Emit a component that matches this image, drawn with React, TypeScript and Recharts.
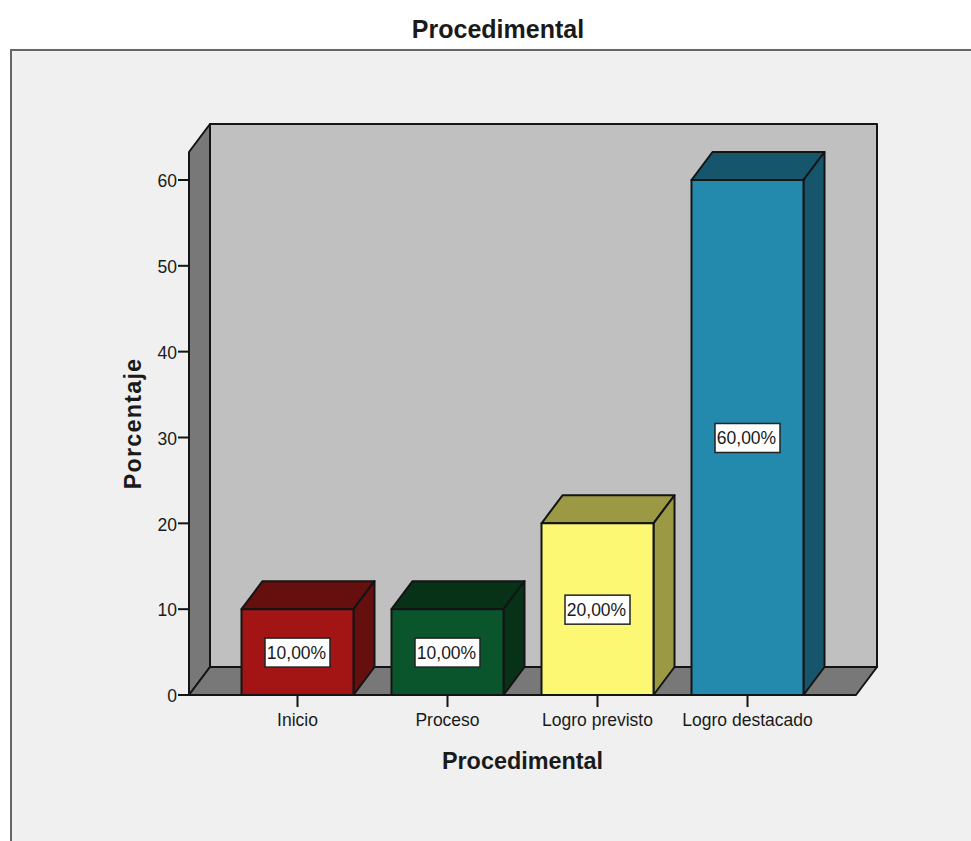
import React from "react";
import { ComposedChart, Bar, XAxis, YAxis, LabelList, Customized, usePlotArea } from "recharts";

const categories = ["Inicio", "Proceso", "Logro previsto", "Logro destacado"];
const percentages = [10, 10, 20, 60];
const valueLabels = ["10,00%", "10,00%", "20,00%", "60,00%"];
const frontColors = ["#a31515", "#0b552c", "#fdf874", "#2389ad"];
const shadeColors = ["#650f0f", "#083218", "#9c9945", "#16566c"];
const yTicks = [0, 10, 20, 30, 40, 50, 60];

const rows = categories.map((name, i) => ({
  name,
  value: percentages[i],
  label: valueLabels[i],
  front: frontColors[i],
  shade: shadeColors[i],
}));

const FONT = '"Liberation Sans", Arial, sans-serif';
const INK = "#1a1a1a";
const EDGE = "#141414";
// Offset of the back plane relative to the front plane of the 3D frame.
const DEPTH_X = 21;
const DEPTH_Y = 28;

const pts = (list: number[][]) => list.map((p) => p.join(",")).join(" ");

// Panel, side wall, back wall and floor behind the bars.
function Frame() {
  const area = usePlotArea();
  if (!area) return null;
  const left = area.x;
  const top = area.y;
  const right = area.x + area.width;
  const bottom = area.y + area.height;
  const stroke = { stroke: EDGE, strokeWidth: 2, strokeLinejoin: "round" as const };
  return (
    <g>
      <text x={498} y={38} textAnchor="middle" fontFamily={FONT} fontWeight="bold" fontSize={25} fill={INK}>
        Procedimental
      </text>
      {/* The panel runs off the right and bottom of the page, so only two edges are stroked. */}
      <rect x={11} y={50} width={960} height={791} fill="#f0f0f0" />
      <path d="M11 841 V50 H971" fill="none" stroke="#666" strokeWidth={2} />
      <rect x={left + DEPTH_X} y={top - DEPTH_Y} width={right - left} height={bottom - top} fill="#c0c0c0" {...stroke} />
      <polygon
        points={pts([[left, top], [left + DEPTH_X, top - DEPTH_Y], [left + DEPTH_X, bottom - DEPTH_Y], [left, bottom]])}
        fill="#787878"
        {...stroke}
      />
      <polygon
        points={pts([[left, bottom], [left + DEPTH_X, bottom - DEPTH_Y], [right + DEPTH_X, bottom - DEPTH_Y], [right, bottom]])}
        fill="#787878"
        {...stroke}
      />
    </g>
  );
}

// A bar drawn as a box: front face, top face and right-hand face.
function BoxBar(props: any) {
  const { x, y, width, height, payload } = props;
  const stroke = { stroke: EDGE, strokeWidth: 2, strokeLinejoin: "round" as const };
  const r = x + width;
  const b = y + height;
  return (
    <g>
      <polygon
        points={pts([[x, y], [x + DEPTH_X, y - DEPTH_Y], [r + DEPTH_X, y - DEPTH_Y], [r, y]])}
        fill={payload.shade}
        {...stroke}
      />
      <polygon
        points={pts([[r, y], [r + DEPTH_X, y - DEPTH_Y], [r + DEPTH_X, b - DEPTH_Y], [r, b]])}
        fill={payload.shade}
        {...stroke}
      />
      <rect x={x} y={y} width={width} height={height} fill={payload.front} {...stroke} />
    </g>
  );
}

// White value tag centred on the bar's front face.
function ValueTag(props: any) {
  const { x, y, width, height, value } = props;
  const cx = x + width / 2;
  const cy = y + height / 2 + 0.5;
  return (
    <g>
      <rect x={cx - 32.5} y={cy - 14.5} width={65} height={29} fill="#ffffff" stroke="#222" strokeWidth={1.5} />
      <text x={cx - 1} y={cy + 6.5} textAnchor="middle" fontFamily={FONT} fontSize={17.5} fill={INK}>
        {value}
      </text>
    </g>
  );
}

export default function App() {
  return (
    <div style={{ position: "absolute", left: 0, top: 0, width: 971, height: 841, overflow: "hidden", background: "#fff" }}>
      <ComposedChart
        width={971}
        height={841}
        data={rows}
        margin={{ top: 152, right: 115, bottom: 0, left: 0 }}
      >
        <Customized component={Frame} />
        <XAxis
          dataKey="name"
          height={146}
          padding={{ left: 33.5, right: 33.5 }}
          tick={{ fontFamily: FONT, fontSize: 17.5, fill: INK }}
          tickSize={12}
          tickMargin={7}
          interval={0}
          axisLine={{ stroke: EDGE, strokeWidth: 2 }}
          tickLine={{ stroke: EDGE, strokeWidth: 2 }}
          label={{
            value: "Procedimental",
            position: "insideBottom",
            offset: 72,
            style: { fontFamily: FONT, fontWeight: "bold", fontSize: 23.4, fill: INK },
          }}
        />
        <YAxis
          width={189}
          domain={[0, 63.26]}
          ticks={yTicks}
          tick={{ fontFamily: FONT, fontSize: 17.5, fill: INK, dy: 1 }}
          tickSize={11}
          tickMargin={1}
          axisLine={{ stroke: EDGE, strokeWidth: 2 }}
          tickLine={{ stroke: EDGE, strokeWidth: 2 }}
          label={{
            value: "Porcentaje",
            angle: -90,
            position: "insideLeft",
            offset: 133,
            style: { fontFamily: FONT, fontWeight: "bold", fontSize: 23.4, letterSpacing: 1.2, fill: INK, textAnchor: "middle" },
          }}
        />
        <Bar dataKey="value" barSize={112} shape={BoxBar} isAnimationActive={false}>
          <LabelList dataKey="label" content={ValueTag} />
        </Bar>
      </ComposedChart>
    </div>
  );
}
